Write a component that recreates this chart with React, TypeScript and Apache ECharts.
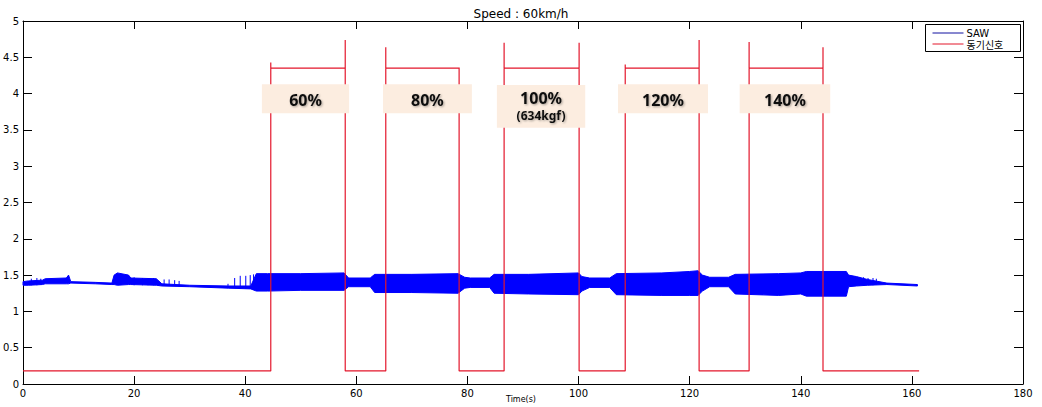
import React, { useEffect, useRef } from "react";
import * as echarts from "echarts";

// ---- SAW signal envelope (time in s, lower / upper bound) ----
const SAW_T = [0, 1, 3.5, 4, 7.8, 8.2, 8.6, 13, 16, 16.4, 17, 19, 19.4, 24, 25, 30, 37, 41, 42, 44, 50, 57.8, 58.6, 62.5, 63.3, 70, 78.3, 79.5, 80.5, 84, 84.8, 91, 100, 100.6, 102, 105.6, 106.8, 115, 120, 121.5, 122.3, 123.6, 127, 128.2, 136, 140, 141, 148.2, 148.6, 150, 152, 155.5, 161];
const SAW_LO = [1.36, 1.36, 1.37, 1.38, 1.38, 1.38, 1.39, 1.38, 1.37, 1.37, 1.36, 1.37, 1.37, 1.36, 1.35, 1.34, 1.32, 1.31, 1.28, 1.28, 1.29, 1.29, 1.34, 1.34, 1.26, 1.26, 1.25, 1.32, 1.33, 1.33, 1.25, 1.24, 1.23, 1.28, 1.33, 1.33, 1.23, 1.22, 1.22, 1.22, 1.28, 1.34, 1.34, 1.24, 1.22, 1.24, 1.21, 1.21, 1.34, 1.35, 1.36, 1.37, 1.35];
const SAW_HI = [1.41, 1.42, 1.43, 1.45, 1.46, 1.5, 1.41, 1.4, 1.39, 1.5, 1.53, 1.5, 1.46, 1.45, 1.38, 1.36, 1.35, 1.35, 1.52, 1.52, 1.52, 1.53, 1.46, 1.46, 1.51, 1.51, 1.52, 1.47, 1.46, 1.46, 1.51, 1.51, 1.53, 1.48, 1.46, 1.46, 1.52, 1.53, 1.55, 1.56, 1.5, 1.47, 1.47, 1.51, 1.52, 1.53, 1.55, 1.55, 1.5, 1.48, 1.44, 1.39, 1.37];

// ---- isolated SAW spikes ----
const SPIKE_T = [1.5, 2.5, 3.2, 20, 21.5, 22.5, 23.5, 25.4, 26.3, 27.3, 28.1, 36.9, 38.1, 39.1, 40.1, 40.9, 41.5, 149.8, 150.5, 151.3, 152.1, 153, 153.6];
const SPIKE_LO = [1.36, 1.36, 1.37, 1.36, 1.36, 1.36, 1.36, 1.35, 1.35, 1.35, 1.34, 1.32, 1.32, 1.31, 1.31, 1.31, 1.3, 1.35, 1.35, 1.36, 1.36, 1.36, 1.37];
const SPIKE_HI = [1.45, 1.46, 1.45, 1.47, 1.46, 1.45, 1.46, 1.44, 1.44, 1.43, 1.42, 1.38, 1.46, 1.49, 1.49, 1.5, 1.51, 1.48, 1.47, 1.47, 1.46, 1.46, 1.45];

// ---- sync signal ----
const SYNC_EDGE_T = [44.6, 58.0, 65.3, 78.5, 86.6, 100.1, 108.4, 121.7, 130.7, 144.0];
const SYNC_PEAK = [4.43, 4.74, 4.64, 4.36, 4.7, 4.7, 4.4, 4.74, 4.71, 4.64];
const SYNC_LOW = 0.18;
const SYNC_HIGH = 4.35;
const SYNC_START = 0;
const SYNC_END = 161.3;

// ---- load labels ----
const LOAD_LABELS = ["60%", "80%", "100%", "120%", "140%"];
const LOAD_SUBLABELS = ["", "", "(634kgf)", "", ""];
const LOAD_X0 = [43.0, 64.8, 85.3, 107.1, 129.0];
const LOAD_X1 = [58.7, 80.8, 101.2, 123.3, 145.3];
const LOAD_Y0 = [3.73, 3.73, 3.53, 3.73, 3.73];
const LOAD_Y1 = [4.13, 4.13, 4.12, 4.13, 4.13];

const X_NAME = "Time(s)";
const BLUE = "#0000ff";
const RED = "#e3162b";
const FONT = "DejaVu Sans";

export default function App() {
  const ref = useRef<HTMLDivElement>(null);
  useEffect(() => {
    if (!ref.current) return;
    const chart = echarts.init(ref.current, null, { renderer: "svg" });

    const syncData: number[][] = [[SYNC_START, SYNC_LOW]];
    SYNC_EDGE_T.forEach((t, i) => {
      if (i % 2 === 0) {
        syncData.push([t, SYNC_LOW], [t, SYNC_PEAK[i]], [t, SYNC_HIGH]);
      } else {
        syncData.push([t, SYNC_HIGH], [t, SYNC_PEAK[i]], [t, SYNC_LOW]);
      }
    });
    syncData.push([SYNC_END, SYNC_LOW]);

    const axisCommon = {
      min: 0,
      splitLine: { show: false },
      axisLine: { show: true, onZero: false, lineStyle: { color: "#000", width: 1 } },
    };

    const textShadow = {
      textShadowColor: "rgba(0,0,0,0.35)",
      textShadowBlur: 2,
      textShadowOffsetX: 1,
      textShadowOffsetY: 1,
    };

    chart.setOption({
      animation: false,
      textStyle: { fontFamily: FONT },
      title: {
        text: "Speed : 60km/h",
        left: "center",
        top: 3,
        textStyle: { fontSize: 12, fontWeight: "normal", color: "#000", fontFamily: FONT },
      },
      grid: { left: 23, right: 19, top: 21, bottom: 23, containLabel: false, outerBoundsMode: "none" },
      xAxis: [
        {
          ...axisCommon,
          type: "value",
          max: 180,
          interval: 20,
          axisTick: { inside: true, length: 8, lineStyle: { color: "#000" } },
          axisLabel: { fontSize: 10, color: "#000", margin: 4 },
        },
        {
          ...axisCommon,
          type: "value",
          position: "top",
          max: 180,
          interval: 20,
          axisTick: { inside: true, length: 8, lineStyle: { color: "#000" } },
          axisLabel: { show: false },
        },
      ],
      yAxis: [
        {
          ...axisCommon,
          type: "value",
          max: 5,
          interval: 0.5,
          axisTick: { inside: true, length: 9, lineStyle: { color: "#000" } },
          axisLabel: { fontSize: 10, color: "#000", margin: 4 },
        },
        {
          ...axisCommon,
          type: "value",
          position: "right",
          max: 5,
          interval: 0.5,
          axisTick: { inside: true, length: 9, lineStyle: { color: "#000" } },
          axisLabel: { show: false },
        },
      ],
      series: [
        {
          name: "SAW",
          type: "custom",
          z: 2,
          encode: { x: 0, y: [1, 2] },
          data: SAW_T.map((t, i) => [t, SAW_LO[i], SAW_HI[i]]),
          renderItem: (params: any, api: any) => {
            if (params.dataIndex !== 0) return null;
            const upper = SAW_T.map((t, i) => api.coord([t, SAW_HI[i]]));
            const lower = SAW_T.map((t, i) => api.coord([t, SAW_LO[i]])).reverse();
            return {
              type: "polygon",
              shape: { points: upper.concat(lower) },
              style: { fill: BLUE, stroke: BLUE, lineWidth: 1 },
            };
          },
        },
        {
          name: "spikes",
          type: "custom",
          z: 2,
          encode: { x: 0, y: [1, 2] },
          data: SPIKE_T.map((t, i) => [t, SPIKE_LO[i], SPIKE_HI[i]]),
          renderItem: (params: any, api: any) => {
            const a = api.coord([api.value(0), api.value(1)]);
            const b = api.coord([api.value(0), api.value(2)]);
            return {
              type: "line",
              shape: { x1: a[0], y1: a[1], x2: b[0], y2: b[1] },
              style: { stroke: BLUE, lineWidth: 1 },
            };
          },
        },
        {
          name: "동기신호",
          type: "line",
          symbol: "none",
          z: 3,
          lineStyle: { color: RED, width: 1.2 },
          data: syncData,
        },
        {
          name: "loads",
          type: "custom",
          z: 10,
          encode: { x: [0, 1], y: [2, 3] },
          data: LOAD_LABELS.map((_, i) => [LOAD_X0[i], LOAD_X1[i], LOAD_Y0[i], LOAD_Y1[i]]),
          renderItem: (params: any, api: any) => {
            const i = params.dataIndex;
            const p0 = api.coord([api.value(0), api.value(3)]);
            const p1 = api.coord([api.value(1), api.value(2)]);
            const cx = (p0[0] + p1[0]) / 2;
            const sub = LOAD_SUBLABELS[i];
            const children: any[] = [
              {
                type: "rect",
                shape: { x: p0[0], y: p0[1], width: p1[0] - p0[0], height: p1[1] - p0[1] },
                style: { fill: "#fcede0" },
              },
              {
                type: "text",
                style: {
                  text: LOAD_LABELS[i],
                  x: cx,
                  y: sub ? p0[1] + 13 : (p0[1] + p1[1]) / 2 + 1,
                  align: "center",
                  verticalAlign: "middle",
                  font: 'bold 16px "Noto Sans"',
                  fill: "#111",
                  ...textShadow,
                },
              },
            ];
            if (sub) {
              children.push({
                type: "text",
                style: {
                  text: sub,
                  x: cx,
                  y: p0[1] + 31,
                  align: "center",
                  verticalAlign: "middle",
                  font: 'bold 12px "Noto Sans"',
                  fill: "#111",
                  ...textShadow,
                },
              });
            }
            return { type: "group", children };
          },
        },
      ],
      graphic: [
        {
          type: "text",
          left: "center",
          top: 395,
          style: { text: X_NAME, font: `8px "${FONT}"`, fill: "#000" },
        },
        {
          type: "group",
          left: 925,
          top: 24,
          z: 100,
          children: [
            { type: "rect", shape: { x: 0, y: 0, width: 95, height: 27 }, style: { fill: "#fff", stroke: "#000", lineWidth: 1 } },
            { type: "line", shape: { x1: 7, y1: 8.5, x2: 38, y2: 8.5 }, style: { stroke: "#1010a0", lineWidth: 1 } },
            { type: "text", style: { text: "SAW", x: 41, y: 8.5, verticalAlign: "middle", font: `10px "${FONT}"`, fill: "#000" } },
            { type: "line", shape: { x1: 7, y1: 19.5, x2: 38, y2: 19.5 }, style: { stroke: RED, lineWidth: 1 } },
            { type: "text", style: { text: "동기신호", x: 41, y: 19.5, verticalAlign: "middle", font: '10px "Noto Sans CJK KR"', fill: "#000" } },
          ],
        },
      ],
    });
    return () => chart.dispose();
  }, []);
  return <div ref={ref} style={{ position: "absolute", left: 0, top: 0, width: 1042, height: 407 }} />;
}
